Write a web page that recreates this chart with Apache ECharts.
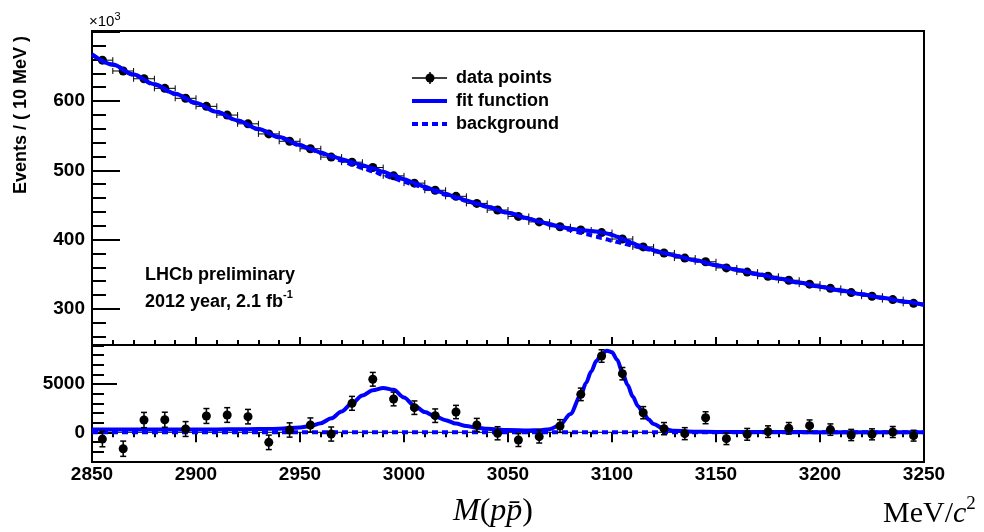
<!DOCTYPE html>
<html><head><meta charset="utf-8">
<script src="https://cdn.jsdelivr.net/npm/echarts@6/dist/echarts.min.js"></script>
<style>html,body{margin:0;padding:0;background:#fff}#c{width:984px;height:532px}</style>
</head><body><div id="c"></div>
<script>
// ---- data ----
const binCenters = [2855,2865,2875,2885,2895,2905,2915,2925,2935,2945,2955,2965,2975,2985,2995,3005,3015,3025,3035,3045,3055,3065,3075,3085,3095,3105,3115,3125,3135,3145,3155,3165,3175,3185,3195,3205,3215,3225,3235,3245];
const binHalfWidth = 5;
// events / 10 MeV, in units of 10^3
const dataTop = [658.9,643.3,632.1,618.3,603.9,592.3,579.7,567.1,552.5,541.9,531.1,519.1,511.7,504.0,492.0,481.5,471.2,462.5,452.3,442.7,433.5,425.6,418.6,413.9,410.2,400.9,389.5,380.8,373.4,368.1,359.2,353.2,347.2,341.4,335.8,329.7,323.6,318.4,313.5,308.1];
// background-subtracted residuals, events
const residuals = [-700,-1700,1270,1300,340,1690,1790,1620,-1040,240,760,-180,3000,5490,3450,2550,1720,2100,760,-100,-800,-450,650,3930,7900,6070,2030,380,-140,1510,-660,-210,70,410,690,280,-280,-210,30,-350];
const residualErrors = [800,790,790,780,770,770,760,750,750,740,730,730,720,710,710,700,700,690,680,680,670,660,660,650,650,640,630,630,620,620,610,610,600,600,590,590,580,570,570,560];
// curves
const curveX = [2850,2860,2870,2880,2890,2900,2910,2920,2930,2940,2950,2955,2960,2965,2970,2975,2980,2985,2990,2995,3000,3005,3010,3015,3020,3025,3030,3035,3040,3050,3060,3065,3070,3075,3080,3085,3087.5,3090,3092.5,3095,3097.5,3100,3102.5,3105,3107.5,3110,3112.5,3115,3117.5,3120,3125,3130,3140,3150,3160,3170,3180,3190,3200,3210,3220,3230,3240,3250];
const backgroundTop = [667,652.2,637.8,623.8,610.2,597.0,584.1,571.6,559.4,547.5,535.9,530.3,524.7,519.3,513.9,508.7,503.5,498.5,493.4,488.5,483.6,478.9,474.1,469.5,464.9,460.4,455.9,451.5,447.1,438.5,430.1,426.0,421.9,417.9,413.9,410.0,408.1,406.1,404.2,402.3,400.4,398.5,396.7,394.8,393.0,391.1,389.3,387.5,385.7,383.9,380.4,376.9,370.0,363.2,356.6,350.2,344.0,338.0,332.2,326.6,321.2,316.0,310.9,305.9];
const fitTop = [667.3,652.5,638.1,624.1,610.5,597.3,584.4,571.9,559.7,547.9,536.4,531.0,525.7,520.8,516.1,511.7,507.3,502.9,498.0,492.9,487.2,481.7,476.2,471.2,466.2,461.3,456.6,452.0,447.5,438.7,430.3,426.2,422.2,418.6,415.8,413.9,413.2,412.4,411.6,410.4,408.9,406.8,404.2,401.0,397.9,394.8,392.0,389.5,387.1,384.8,380.8,377.1,370.1,363.2,356.6,350.2,344.0,338.0,332.2,326.6,321.2,316.0,310.9,305.9];
const fitResidual = [290,290,290,290,290,295,300,310,330,380,500,650,950,1450,2150,3000,3800,4350,4600,4400,3600,2750,2100,1650,1250,900,650,480,360,230,190,210,320,750,1900,3850,5100,6300,7400,8100,8450,8300,7500,6200,4900,3700,2700,2000,1350,850,350,150,60,40,30,25,20,20,15,15,10,10,10,10];
const zeroLineX = [2850, 3250];
const zeroLineY = [0, 0];
// axis ticks / labels
const xRange = [2850, 3250];
const topYRange = [248, 701];
const resYRange = [-3075, 9040];
const topYLabels = [300, 400, 500, 600];
const topYMajor = [300, 400, 500, 600, 700];
const topYMinor = [260,280,320,340,360,380,420,440,460,480,520,540,560,580,620,640,660,680];
const resYLabels = [0, 5000];
const resYMajor = [0, 5000];
const resYMinor = [-3000,-2000,-1000,1000,2000,3000,4000,6000,7000,8000,9000];

// ---- chart ----
const SANS = 'Liberation Sans, Arial, Helvetica, sans-serif';
const SERIF = 'Liberation Serif, Times New Roman, serif';
const BLUE = '#0000ff';
const chart = echarts.init(document.getElementById('c'), null, {renderer: 'canvas'});

function hErr(params, api) {
  const x = api.value(0), y = api.value(1), hw = api.value(2);
  const a = api.coord([x - hw, y]), b = api.coord([x + hw, y]);
  const st = {stroke: '#000', lineWidth: 1};
  return {type: 'group', children: [
    {type: 'line', shape: {x1: a[0], y1: a[1], x2: b[0], y2: b[1]}, style: st},
    {type: 'line', shape: {x1: a[0], y1: a[1] - 3, x2: a[0], y2: a[1] + 3}, style: st},
    {type: 'line', shape: {x1: b[0], y1: b[1] - 3, x2: b[0], y2: b[1] + 3}, style: st}
  ]};
}
function vErr(params, api) {
  const x = api.value(0), y = api.value(1), e = api.value(2);
  const a = api.coord([x, y - e]), b = api.coord([x, y + e]);
  const st = {stroke: '#000', lineWidth: 1.5};
  return {type: 'group', children: [
    {type: 'line', shape: {x1: a[0], y1: a[1], x2: b[0], y2: b[1]}, style: st},
    {type: 'line', shape: {x1: a[0] - 3, y1: a[1], x2: a[0] + 3, y2: a[1]}, style: st},
    {type: 'line', shape: {x1: b[0] - 3, y1: b[1], x2: b[0] + 3, y2: b[1]}, style: st}
  ]};
}

const tickStyle = {color: '#000', width: 2};
const plain = v => String(v);
const labelStyle = {color: '#000', fontSize: 19, fontWeight: 'bold', fontFamily: SANS, formatter: plain};

const option = {
  animation: false,
  backgroundColor: '#fff',
  grid: [
    {left: 92, top: 31, width: 832, height: 314, show: true, borderColor: '#000', borderWidth: 2, backgroundColor: 'transparent'},
    {left: 92, top: 345, width: 832, height: 117, show: true, borderColor: '#000', borderWidth: 2, backgroundColor: 'transparent'}
  ],
  xAxis: [
    {gridIndex: 0, type: 'value', min: xRange[0], max: xRange[1], interval: 50, position: 'bottom',
     axisLine: {show: false}, splitLine: {show: false}, axisLabel: {show: false},
     axisTick: {show: true, inside: true, length: 8, lineStyle: tickStyle},
     minorTick: {show: true, splitNumber: 5, length: 5, lineStyle: tickStyle}},
    {gridIndex: 1, type: 'value', min: xRange[0], max: xRange[1], interval: 50, position: 'bottom',
     axisLine: {show: false}, splitLine: {show: false}, axisTick: {show: false},
     axisLabel: Object.assign({show: true, margin: 3}, labelStyle)},
    {gridIndex: 1, type: 'value', min: xRange[0], max: xRange[1], interval: 50, position: 'top',
     axisLine: {show: false}, splitLine: {show: false}, axisLabel: {show: false},
     axisTick: {show: true, inside: true, length: 10, lineStyle: tickStyle},
     minorTick: {show: true, splitNumber: 5, length: 5, lineStyle: tickStyle}}
  ],
  yAxis: [
    {gridIndex: 0, type: 'value', min: topYRange[0], max: topYRange[1], position: 'left',
     axisLine: {show: false}, splitLine: {show: false},
     axisTick: {show: true, inside: true, length: 28, lineStyle: tickStyle, customValues: topYMajor},
     axisLabel: Object.assign({show: true, margin: 7, customValues: topYLabels}, labelStyle)},
    {gridIndex: 0, type: 'value', min: topYRange[0], max: topYRange[1], position: 'left',
     axisLine: {show: false}, splitLine: {show: false}, axisLabel: {show: false},
     axisTick: {show: true, inside: true, length: 14, lineStyle: tickStyle, customValues: topYMinor}},
    {gridIndex: 1, type: 'value', min: resYRange[0], max: resYRange[1], position: 'left',
     axisLine: {show: false}, splitLine: {show: false},
     axisTick: {show: true, inside: true, length: 25, lineStyle: tickStyle, customValues: resYMajor},
     axisLabel: Object.assign({show: true, margin: 7, customValues: resYLabels}, labelStyle)},
    {gridIndex: 1, type: 'value', min: resYRange[0], max: resYRange[1], position: 'left',
     axisLine: {show: false}, splitLine: {show: false}, axisLabel: {show: false},
     axisTick: {show: true, inside: true, length: 12, lineStyle: tickStyle, customValues: resYMinor}}
  ],
  series: [
    // top panel
    {type: 'custom', xAxisIndex: 0, yAxisIndex: 0, z: 2, renderItem: hErr, encode: {x: 0, y: 1},
     data: binCenters.map((c, i) => [c, dataTop[i], binHalfWidth])},
    {type: 'scatter', xAxisIndex: 0, yAxisIndex: 0, z: 3, symbol: 'circle', symbolSize: 9,
     itemStyle: {color: '#000', opacity: 1}, data: binCenters.map((c, i) => [c, dataTop[i]])},
    {type: 'line', xAxisIndex: 0, yAxisIndex: 0, z: 4, showSymbol: false, smooth: 0.3, smoothMonotone: 'x',
     lineStyle: {color: BLUE, width: 4}, data: curveX.map((x, i) => [x, fitTop[i]])},
    {type: 'line', xAxisIndex: 0, yAxisIndex: 0, z: 5, showSymbol: false, smooth: 0.3, smoothMonotone: 'x',
     lineStyle: {color: BLUE, width: 4, type: [6, 4]}, data: curveX.map((x, i) => [x, backgroundTop[i]])},
    // bottom panel
    {type: 'line', xAxisIndex: 1, yAxisIndex: 2, z: 2, showSymbol: false,
     lineStyle: {color: '#000', width: 1}, data: zeroLineX.map((x, i) => [x, zeroLineY[i]])},
    {type: 'line', xAxisIndex: 1, yAxisIndex: 2, z: 3, showSymbol: false, smooth: 0.3, smoothMonotone: 'x',
     lineStyle: {color: BLUE, width: 4}, data: curveX.map((x, i) => [x, fitResidual[i]])},
    {type: 'line', xAxisIndex: 1, yAxisIndex: 2, z: 4, showSymbol: false,
     lineStyle: {color: BLUE, width: 4, type: [6, 4]}, data: zeroLineX.map((x, i) => [x, zeroLineY[i]])},
    {type: 'custom', xAxisIndex: 1, yAxisIndex: 2, z: 5, renderItem: vErr, encode: {x: 0, y: 1},
     data: binCenters.map((c, i) => [c, residuals[i], residualErrors[i]])},
    {type: 'scatter', xAxisIndex: 1, yAxisIndex: 2, z: 6, symbol: 'circle', symbolSize: 9,
     itemStyle: {color: '#000', opacity: 1}, data: binCenters.map((c, i) => [c, residuals[i]])}
  ],
  graphic: [
    // y title
    {type: 'text', x: 21, y: 115, rotation: Math.PI / 2, z: 10,
     style: {text: 'Events / ( 10 MeV )', fill: '#000', font: 'bold 18px ' + SANS, textAlign: 'center', textVerticalAlign: 'middle'}},
    // x10^3
    {type: 'text', x: 89, y: 20, z: 10,
     style: {text: '{a|×10}{s|3}', textVerticalAlign: 'middle', fill: '#000',
       rich: {a: {fontSize: 15, fontFamily: SANS, fill: '#000', lineHeight: 18, verticalAlign: 'bottom'},
              s: {fontSize: 11, fontFamily: SANS, fill: '#000', lineHeight: 18, verticalAlign: 'top'}}}},
    // legend
    {type: 'line', z: 10, shape: {x1: 412, y1: 78, x2: 447, y2: 78}, style: {stroke: '#000', lineWidth: 1.5}},
    {type: 'line', z: 10, shape: {x1: 430, y1: 72, x2: 430, y2: 84}, style: {stroke: '#000', lineWidth: 1.5}},
    {type: 'circle', z: 10, shape: {cx: 430, cy: 78, r: 4.5}, style: {fill: '#000'}},
    {type: 'text', x: 456, y: 78, z: 10, style: {text: 'data points', fill: '#000', font: 'bold 18px ' + SANS, textVerticalAlign: 'middle'}},
    {type: 'line', z: 10, shape: {x1: 412, y1: 101, x2: 447, y2: 101}, style: {stroke: BLUE, lineWidth: 4}},
    {type: 'text', x: 456, y: 101, z: 10, style: {text: 'fit function', fill: '#000', font: 'bold 18px ' + SANS, textVerticalAlign: 'middle'}},
    {type: 'line', z: 10, shape: {x1: 412, y1: 124, x2: 447, y2: 124}, style: {stroke: BLUE, lineWidth: 4, lineDash: [6, 4]}},
    {type: 'text', x: 456, y: 124, z: 10, style: {text: 'background', fill: '#000', font: 'bold 18px ' + SANS, textVerticalAlign: 'middle'}},
    // LHCb text
    {type: 'text', x: 145, y: 275, z: 10, style: {text: 'LHCb preliminary', fill: '#000', font: 'bold 18px ' + SANS, textVerticalAlign: 'middle'}},
    {type: 'text', x: 145, y: 300, z: 10,
     style: {text: '{a|2012 year, 2.1 fb}{s|-1}', textVerticalAlign: 'middle',
       rich: {a: {fontSize: 18, fontWeight: 'bold', fontFamily: SANS, fill: '#000', lineHeight: 22, verticalAlign: 'bottom'},
              s: {fontSize: 11, fontWeight: 'bold', fontFamily: SANS, fill: '#000', lineHeight: 22, verticalAlign: 'top'}}}},
    // x title
    {type: 'text', x: 453, y: 512, z: 10,
     style: {text: '{i|M}{r|(}{i|pp\u0304}{r|)}', textVerticalAlign: 'middle',
       rich: {i: {fontSize: 32, fontStyle: 'italic', fontFamily: SERIF, fill: '#000'},
              r: {fontSize: 32, fontFamily: SERIF, fill: '#000'}}}},
    {type: 'text', x: 883, y: 512, z: 10,
     style: {text: '{r|MeV/}{i|c}{s|2}', textVerticalAlign: 'middle',
       rich: {i: {fontSize: 30, fontStyle: 'italic', fontFamily: SERIF, fill: '#000', lineHeight: 34, verticalAlign: 'bottom'},
              r: {fontSize: 30, fontFamily: SERIF, fill: '#000', lineHeight: 34, verticalAlign: 'bottom'},
              s: {fontSize: 19, fontFamily: SERIF, fill: '#000', lineHeight: 34, verticalAlign: 'top'}}}}
  ]
};
chart.setOption(option);
</script>
</body></html>
